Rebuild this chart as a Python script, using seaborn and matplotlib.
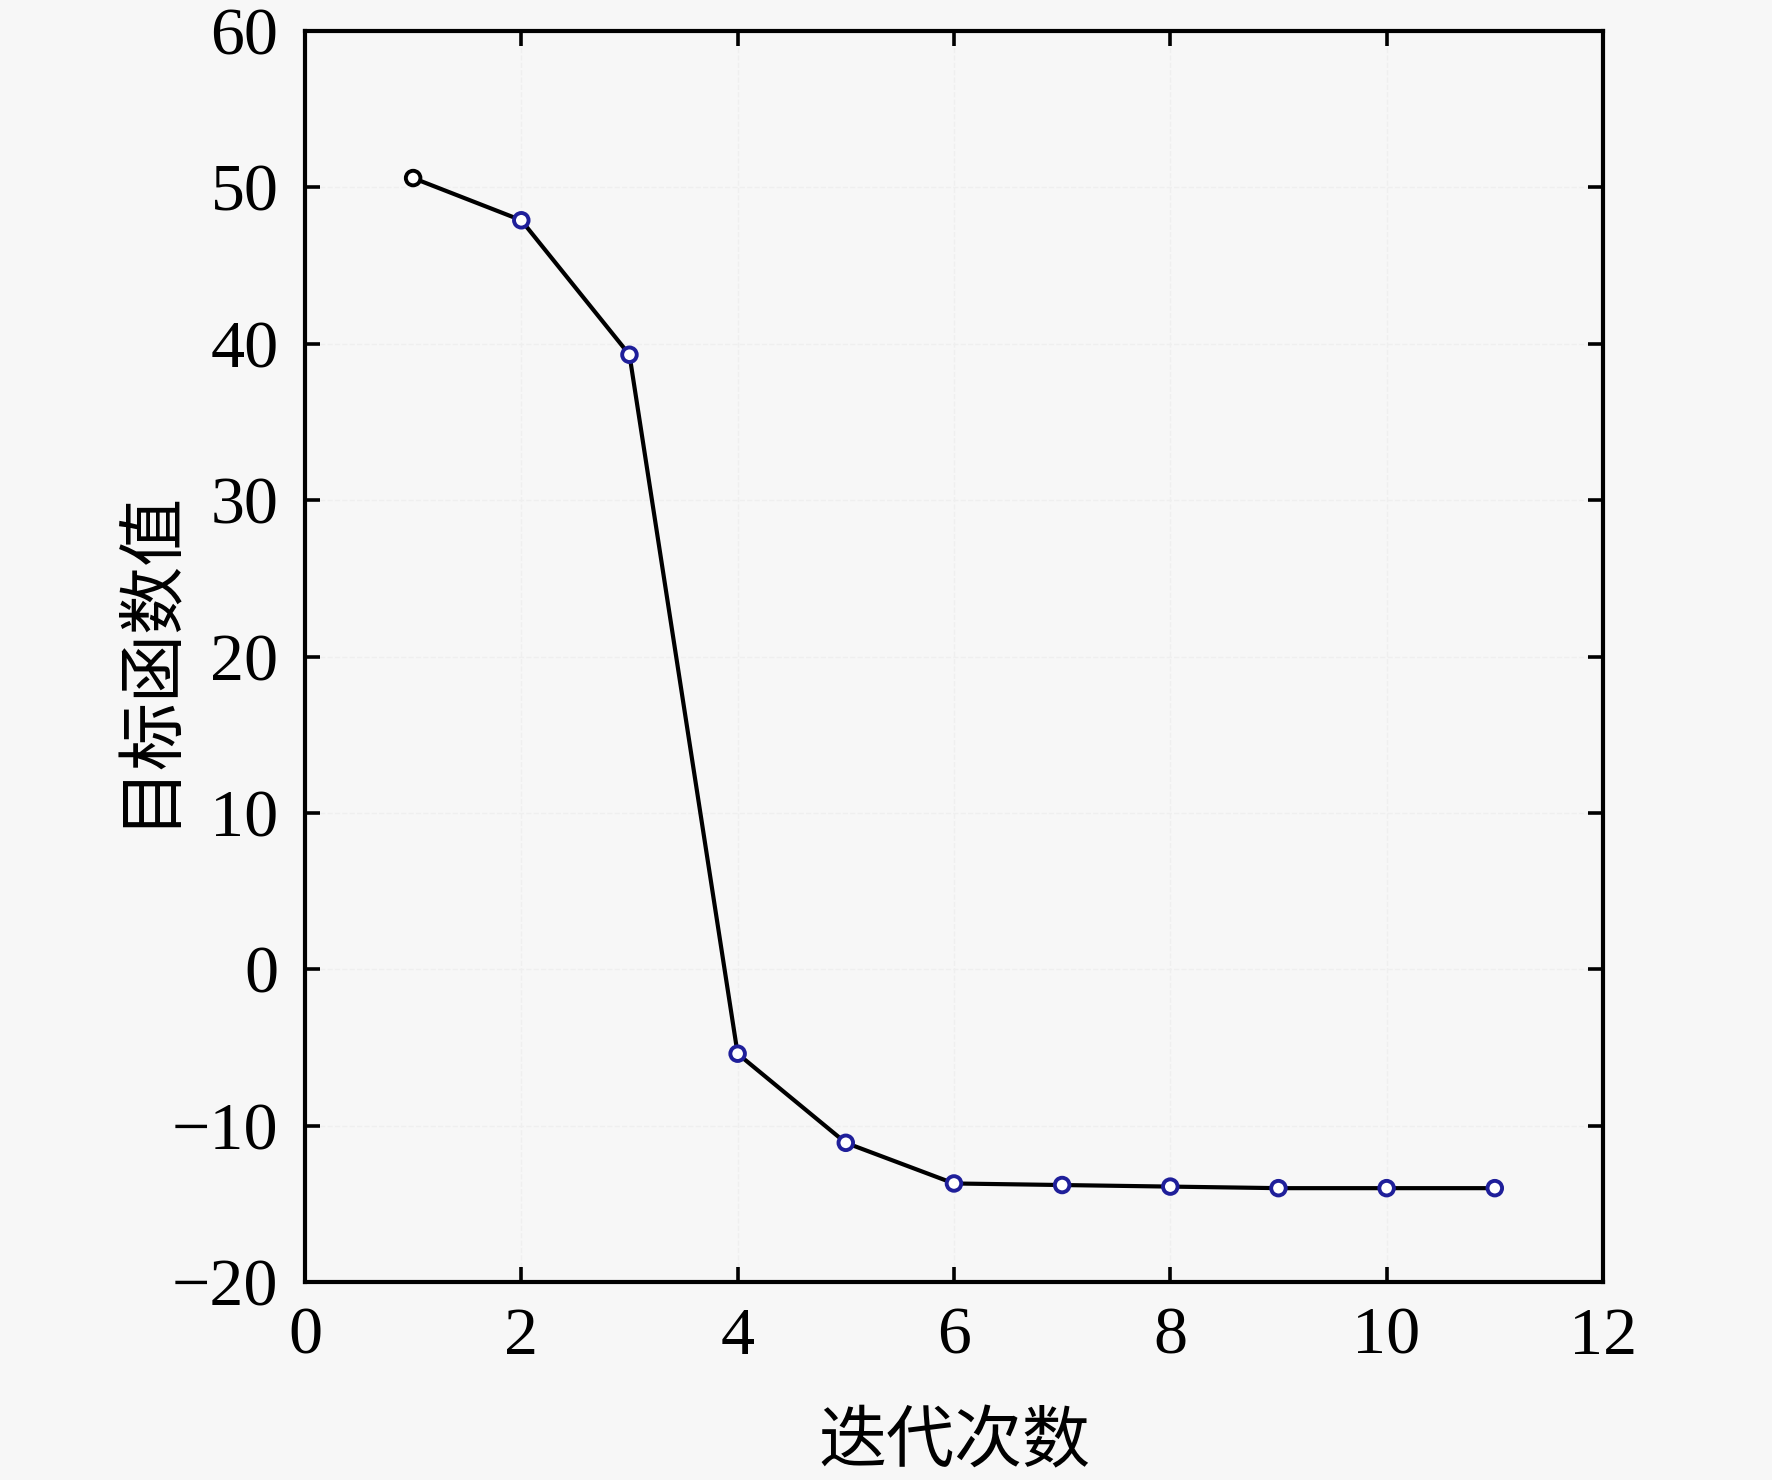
import numpy as np
import pandas as pd
import seaborn as sns
import matplotlib.pyplot as plt

# iteration number vs objective function value
iterations = [1, 2, 3, 4, 5, 6, 7, 8, 9, 10, 11]
objective = [50.6, 47.9, 39.3, -5.4, -11.1, -13.7, -13.8, -13.9, -14.0, -14.0, -14.0]

x_ticks = [0, 2, 4, 6, 8, 10, 12]
y_ticks = [-20, -10, 0, 10, 20, 30, 40, 50, 60]

xlabel = "迭代次数"
ylabel = "目标函数值"


def main():
    sns.set_theme(style="ticks")
    plt.rcParams["font.family"] = ["Liberation Serif", "Noto Sans CJK SC", "DejaVu Sans"]
    plt.rcParams["axes.unicode_minus"] = True

    bg = "#f7f7f7"
    df = pd.DataFrame({"iter": iterations, "value": objective})

    fig = plt.figure(figsize=(17.72, 14.8), dpi=100, facecolor=bg)
    ax = fig.add_axes([0.1721, 0.1338, 0.9046 - 0.1721, 0.979 - 0.1338])
    ax.set_facecolor(bg)

    # very faint dashed grid, nearly invisible like the original
    ax.grid(True, linestyle="--", color="#efefef", linewidth=1.0, zorder=0)

    sns.lineplot(data=df, x="iter", y="value", color="black", linewidth=3.0, ax=ax, zorder=2)
    edges = ["black"] + ["#1f1f9a"] * (len(iterations) - 1)
    sns.scatterplot(data=df, x="iter", y="value", s=110, facecolor="white",
                    edgecolor=edges, linewidth=2.8, ax=ax, zorder=3)

    ax.set_xlim(0, 12)
    ax.set_ylim(-20, 60)
    ax.set_xticks(x_ticks)
    ax.set_yticks(y_ticks)

    for s in ax.spines.values():
        s.set_visible(True)
        s.set_color("black")
        s.set_linewidth(3.0)

    ax.tick_params(axis="both", direction="in", length=11, width=2.6, colors="black",
                   top=True, right=True, labelsize=49)
    ax.tick_params(axis="x", pad=18)
    ax.tick_params(axis="y", pad=19)

    ax.set_xlabel(xlabel, fontsize=49, family=["Noto Sans CJK SC"], color="black")
    ax.set_ylabel(ylabel, fontsize=49, family=["Noto Sans CJK SC"], color="black")
    ax.xaxis.set_label_coords(0.5, -0.101)
    ax.yaxis.set_label_coords(-0.094, 0.5)

    fig.savefig("out.png", dpi=100, facecolor=bg)


if __name__ == "__main__":
    main()
